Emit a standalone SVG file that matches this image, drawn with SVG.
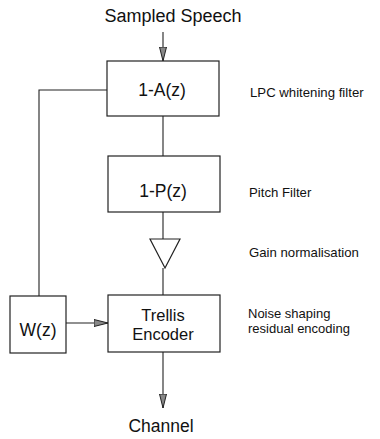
<svg xmlns="http://www.w3.org/2000/svg" width="380" height="439" viewBox="0 0 380 439">
<defs>
<style>
.box{fill:#fff;stroke:#222;stroke-width:1.2}
.ln{fill:none;stroke:#222;stroke-width:1.1}
.big{font-family:"Liberation Sans",Arial,sans-serif;font-size:17.5px;fill:#111;text-anchor:middle}
.lab{font-family:"Liberation Sans",Arial,sans-serif;font-size:13.2px;fill:#111}
</style>
<marker id="arr" viewBox="0 0 14 8" refX="14" refY="4" markerWidth="14" markerHeight="8" markerUnits="userSpaceOnUse" orient="auto">
<path d="M0,0.5 L14,4 L0,7.5 Z" fill="#888" stroke="#222" stroke-width="1"/>
</marker>
</defs>
<rect width="380" height="439" fill="#fff"/>
<g id="connectors">
<line class="ln" x1="163" y1="32" x2="163" y2="61" marker-end="url(#arr)"/>
<line class="ln" x1="163" y1="116" x2="163" y2="156"/>
<line class="ln" x1="163" y1="212" x2="163" y2="239"/>
<line class="ln" x1="163" y1="268" x2="163" y2="295"/>
<polyline class="ln" points="107,90 39,90 39,296"/>
<line class="ln" x1="66" y1="323" x2="108" y2="323" marker-end="url(#arr)"/>
<line class="ln" x1="163" y1="352" x2="163" y2="408" marker-end="url(#arr)"/>
</g>
<g id="input"><text class="big" x="173" y="22" style="font-size:18px">Sampled Speech</text></g>
<g id="lpc">
<rect class="box" x="107" y="61" width="112" height="55"/>
<text class="big" x="162" y="96">1-A(z)</text>
<text class="lab" x="250" y="97">LPC whitening filter</text>
</g>
<g id="pitch">
<rect class="box" x="108" y="156" width="112" height="56"/>
<text class="big" x="163" y="197">1-P(z)</text>
<text class="lab" x="249" y="197">Pitch Filter</text>
</g>
<g id="gain">
<polygon class="box" points="150,239 180,239 165,268"/>
<text class="lab" x="249" y="257">Gain normalisation</text>
</g>
<g id="trellis">
<rect class="box" x="108" y="295" width="112" height="57"/>
<text class="big" x="163" y="321" style="font-size:16.5px">Trellis</text>
<text class="big" x="163" y="340" style="font-size:16.5px">Encoder</text>
<text class="lab" x="248" y="318" style="font-size:13px">Noise shaping</text>
<text class="lab" x="248" y="333" style="font-size:13px">residual encoding</text>
</g>
<g id="wz">
<rect class="box" x="10" y="296" width="56" height="57"/>
<text class="big" x="38" y="336">W(z)</text>
</g>
<g id="output"><text class="big" x="161" y="432">Channel</text></g>
</svg>
